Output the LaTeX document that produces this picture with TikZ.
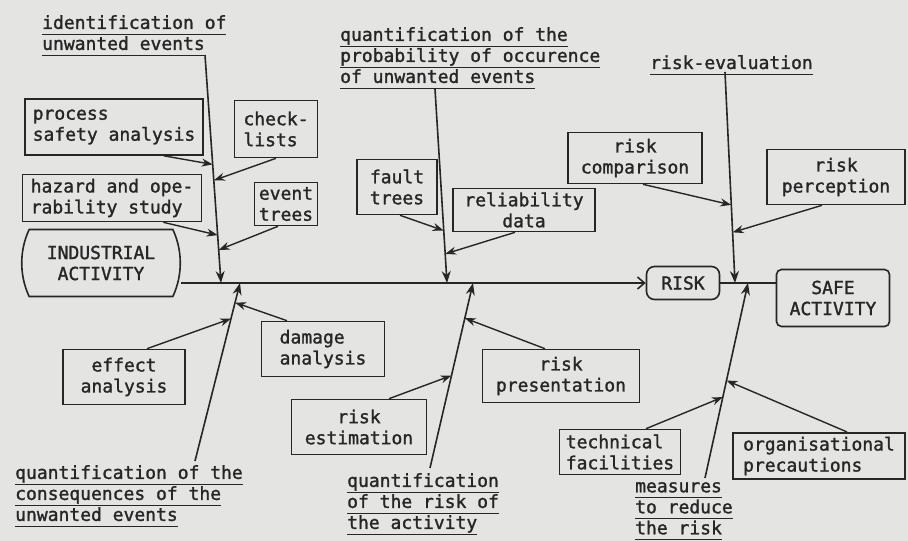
\documentclass[tikz,border=0pt]{standalone}
\usepackage{fontspec}
\setmainfont{DejaVu Sans Mono}[FakeBold=1.4]
\usepackage{tikz}
\usetikzlibrary{arrows.meta, calc, shapes.misc}

\definecolor{paper}{RGB}{228,228,226}
\definecolor{ink}{RGB}{38,38,38}
\newcommand{\ulin}[1]{\underline{#1\vphantom{gqy}}}

\begin{document}
\begin{tikzpicture}[
			x=1pt, y=-1pt,
			every node/.style={font=\fontsize{18}{21}\selectfont, text=ink},
			box/.style={
				rectangle, draw=ink, line width=1.6pt,
				align=center, inner sep=4pt
			},
			lbox/.style={box, align=left},
			ibox/.style={
				rounded rectangle, rounded rectangle arc length=50,
				draw=ink, line width=1.6pt, align=center, inner sep=3pt
			},
			title/.style={anchor=north west, align=left, inner sep=0pt},
			spine/.style={draw=ink, line width=1.6pt},
			bone/.style={
				draw=ink, line width=1.6pt,
				-{Stealth[length=12pt,width=9pt]}
			},
			arrow/.style={
				draw=ink, line width=1.4pt,
				-{Stealth[length=11pt,width=8pt]}
			}
			]
			
			\fill[paper] (0,0) rectangle (908,541);
			\useasboundingbox (0,0) rectangle (908,541);
			
			\node[title] (tident) at (42,15) {\ulin{identification of}\\\ulin{unwanted events}};
			\node[title] (tprob) at (340,27) {\ulin{quantification of the}\\\ulin{probability of occurence}\\\ulin{of unwanted events}};
			\node[title] (teval) at (650,55) {\ulin{risk-evaluation}};
			\node[title] (tcons) at (15,465) {\ulin{quantification of the}\\\ulin{consequences of the}\\\ulin{unwanted events}};
			\node[title] (tact) at (347,473) {\ulin{quantification}\\\ulin{of the risk of}\\\ulin{the activity}};
			\node[title] (tmeas) at (635,482) {\ulin{measures}\\\ulin{to reduce}\\\ulin{the risk}};
			
			\node[lbox, minimum width=178pt, minimum height=56pt] (procsafety) at (114,127) {process\\safety analysis};
			\node[lbox, minimum width=83pt, minimum height=57pt] (checklists) at (276,129) {check-\\lists};
			\node[lbox, minimum width=179pt, minimum height=47pt] (hazop) at (112,198) {hazard and ope-\\rability study};
			\node[lbox, minimum width=63pt, minimum height=43pt] (eventtrees) at (286,204) {event\\trees};
			\node[ibox, minimum width=128pt, minimum height=67pt] (industrial) at (101,263) {INDUSTRIAL\\ACTIVITY};
			\node[lbox, minimum width=80pt, minimum height=55pt] (faulttrees) at (397,187) {fault\\trees};
			\node[box, minimum width=142pt, minimum height=43pt] (reliability) at (524,210) {reliability\\data};
			\node[box, minimum width=134pt, minimum height=51pt] (riskcomp) at (635,158) {risk\\comparison};
			\node[box, minimum width=138pt, minimum height=55pt] (riskperc) at (836,177) {risk\\perception};
			\node[box, rounded corners=8pt, minimum width=73pt, minimum height=33pt] (risk) at (683,283) {RISK};
			\node[box, rounded corners=5pt, minimum width=113pt, minimum height=57pt] (safe) at (833,298) {SAFE\\ACTIVITY};
			\node[box, minimum width=122pt, minimum height=55pt] (effect) at (124,377) {effect\\analysis};
			\node[lbox, minimum width=123pt, minimum height=55pt] (damage) at (323,349) {damage\\analysis};
			\node[box, minimum width=135pt, minimum height=55pt] (riskest) at (359,427) {risk\\estimation};
			\node[box, minimum width=157pt, minimum height=53pt] (riskpres) at (561,376) {risk\\presentation};
			\node[lbox, minimum width=121pt, minimum height=45pt] (technical) at (620,452) {technical\\facilities};
			\node[lbox, minimum width=172pt, minimum height=44pt] (organisational) at (819,456) {organisational\\precautions};
			
			\coordinate (b1t) at (205,55);  \coordinate (b1s) at (221,283);
			\coordinate (b2t) at (435,89);  \coordinate (b2s) at (447,283);
			\coordinate (b3t) at (725,72);  \coordinate (b3s) at (735,283);
			\coordinate (b4t) at (195,461); \coordinate (b4s) at (240,283);
			\coordinate (b5t) at (430,468); \coordinate (b5s) at (473,283);
			\coordinate (b6t) at (705,478); \coordinate (b6s) at (748,283);
			
			\draw[spine, -{Straight Barb[length=7pt,width=12pt]}] (industrial.east |- risk.west) -- (risk.west);
			\draw[spine] (risk.east) -- (risk.east -| safe.west);
			
			\draw[bone] (b1t) -- (b1s);
			\draw[bone] (b2t) -- (b2s);
			\draw[bone] (b3t) -- (b3s);
			\draw[bone] (b4t) -- (b4s);
			\draw[bone] (b5t) -- (b5s);
			\draw[bone] (b6t) -- (b6s);
			
			\draw[arrow] ([xshift=-40pt]procsafety.south east) -- ($(b1t)!0.48!(b1s)$);
			\draw[arrow] (checklists.south) -- ($(b1t)!0.55!(b1s)$);
			\draw[arrow] ([xshift=-39pt]hazop.south east) -- ($(b1t)!0.79!(b1s)$);
			\draw[arrow] ([xshift=-8pt]eventtrees.south) -- ($(b1t)!0.855!(b1s)$);
			\draw[arrow] ([xshift=3pt]faulttrees.south) -- ($(b2t)!0.73!(b2s)$);
			\draw[arrow] ([xshift=-9pt]reliability.south) -- ($(b2t)!0.85!(b2s)$);
			\draw[arrow] ([xshift=8pt]riskcomp.south) -- ($(b3t)!0.63!(b3s)$);
			\draw[arrow] ([xshift=-14pt]riskperc.south) -- ($(b3t)!0.76!(b3s)$);
			\draw[arrow] ([xshift=23pt]effect.north) -- ($(b4t)!0.80!(b4s)$);
			\draw[arrow] ([xshift=-36pt]damage.north) -- ($(b4t)!0.89!(b4s)$);
			\draw[arrow] ([xshift=30pt]riskest.north) -- ($(b5t)!0.50!(b5s)$);
			\draw[arrow] ([xshift=-16pt]riskpres.north) -- ($(b5t)!0.81!(b5s)$);
			\draw[arrow] ([xshift=26pt]technical.north) -- ($(b6t)!0.415!(b6s)$);
			\draw[arrow] ([xshift=28pt]organisational.north) -- ($(b6t)!0.50!(b6s)$);
		\end{tikzpicture}
\end{document}
